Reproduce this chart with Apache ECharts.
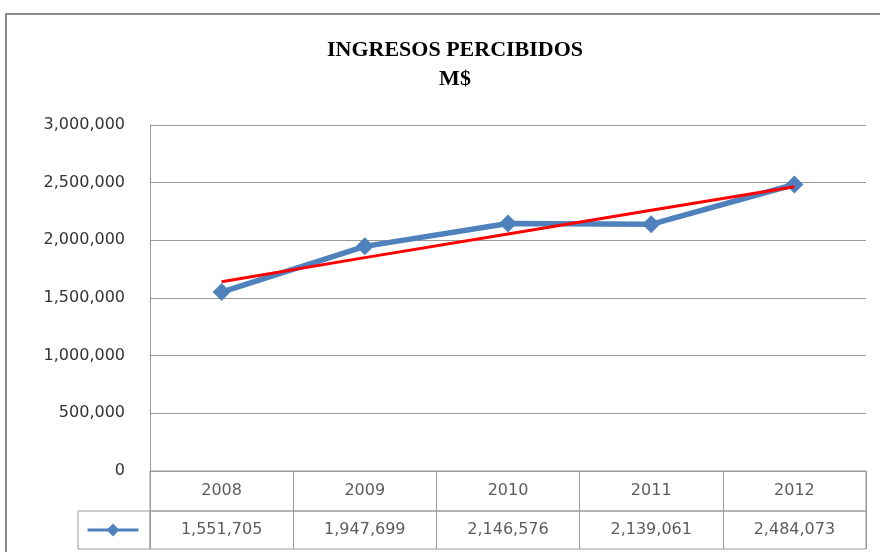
<!DOCTYPE html>
<html>
<head>
<meta charset="utf-8">
<script src="https://cdn.jsdelivr.net/npm/echarts@6/dist/echarts.min.js"></script>
<style>
  html, body { margin: 0; padding: 0; background: #fff; }
  #main { width: 880px; height: 552px; }
</style>
</head>
<body>
<div id="main"></div>
<script>
// datos
var years = ['2008', '2009', '2010', '2011', '2012'];
var ingresos = [1551705, 1947699, 2146576, 2139061, 2484073];
// linea de tendencia (valores estimados en la imagen)
var tendencia = [1640000, 1850000, 2055000, 2260000, 2465000];
var yTicks = [0, 500000, 1000000, 1500000, 2000000, 2500000, 3000000];

var fmt = function (v) { return Number(v).toLocaleString('en-US'); };
var lineGray = '#9a9a9a';
var cellFont = { fontFamily: 'DejaVu Sans', fontSize: 16, color: '#333' };

var chart = echarts.init(document.getElementById('main'), null, { renderer: 'canvas' });

var option = {
  animation: false,
  backgroundColor: '#fff',
  title: {
    text: 'INGRESOS PERCIBIDOS\nM$',
    left: 450,
    top: 31,
    textAlign: 'center',
    textStyle: {
      fontFamily: 'Liberation Serif',
      fontWeight: 'bold',
      fontSize: 22,
      lineHeight: 29,
      color: '#000'
    }
  },
  legend: {
    left: 86,
    top: 522,
    padding: 0,
    itemWidth: 51,
    itemHeight: 16,
    data: ['Ingresos'],
    lineStyle: { width: 3 },
    formatter: function () { return ''; },
    selectedMode: false
  },
  graphic: [
    { type: 'rect', shape: { x: 6, y: 14, width: 900, height: 600 },
      style: { fill: 'none', stroke: '#8a8a8a', lineWidth: 2 }, silent: true },
    { type: 'rect', shape: { x: 78, y: 511, width: 72, height: 38 },
      style: { fill: 'none', stroke: lineGray, lineWidth: 1 }, silent: true }
  ],
  grid: [
    { left: 150, top: 125, width: 716, height: 346 },
    { left: 150, top: 471, width: 716, height: 40, show: true, borderColor: lineGray, borderWidth: 1 },
    { left: 150, top: 511, width: 716, height: 38, show: true, borderColor: lineGray, borderWidth: 1 }
  ],
  xAxis: [
    { gridIndex: 0, type: 'category', data: years, boundaryGap: true,
      axisLine: { lineStyle: { color: lineGray } }, axisTick: { show: false }, axisLabel: { show: false } },
    { gridIndex: 1, type: 'category', data: years, boundaryGap: true,
      axisLine: { show: false }, axisTick: { show: false }, axisLabel: { show: false },
      splitLine: { show: true, interval: 0, lineStyle: { color: lineGray } } },
    { gridIndex: 2, type: 'category', data: years, boundaryGap: true,
      axisLine: { show: false }, axisTick: { show: false }, axisLabel: { show: false },
      splitLine: { show: true, interval: 0, lineStyle: { color: lineGray } } }
  ],
  yAxis: [
    { gridIndex: 0, type: 'value', min: yTicks[0], max: yTicks[yTicks.length - 1], interval: 500000,
      axisLine: { show: true, lineStyle: { color: lineGray } }, axisTick: { show: false },
      axisLabel: { margin: 25, formatter: fmt, fontFamily: 'DejaVu Sans', fontSize: 16, color: '#333' },
      splitLine: { lineStyle: { color: lineGray } } },
    { gridIndex: 1, type: 'value', min: 0, max: 1, show: false },
    { gridIndex: 2, type: 'value', min: 0, max: 1, show: false }
  ],
  series: [
    { name: 'Ingresos', type: 'line', xAxisIndex: 0, yAxisIndex: 0, data: ingresos,
      symbol: 'diamond', symbolSize: 18, z: 3,
      lineStyle: { color: '#4F81BD', width: 5.5 }, itemStyle: { color: '#4F81BD' } },
    { name: 'Tendencia', type: 'line', xAxisIndex: 0, yAxisIndex: 0, data: tendencia,
      symbol: 'none', z: 4, lineStyle: { color: '#FF0000', width: 3 } },
    { type: 'scatter', xAxisIndex: 1, yAxisIndex: 1, symbolSize: 1,
      itemStyle: { color: 'rgba(0,0,0,0)' }, silent: true,
      data: years.map(function (y) { return [y, 0.5]; }),
      label: Object.assign({ show: true, position: 'inside',
        formatter: function (p) { return p.value[0]; } }, cellFont) },
    { type: 'scatter', xAxisIndex: 2, yAxisIndex: 2, symbolSize: 1,
      itemStyle: { color: 'rgba(0,0,0,0)' }, silent: true,
      data: years.map(function (y) { return [y, 0.5]; }),
      label: Object.assign({ show: true, position: 'inside',
        formatter: function (p) { return fmt(ingresos[p.dataIndex]); } }, cellFont) }
  ]
};

chart.setOption(option);
</script>
</body>
</html>
